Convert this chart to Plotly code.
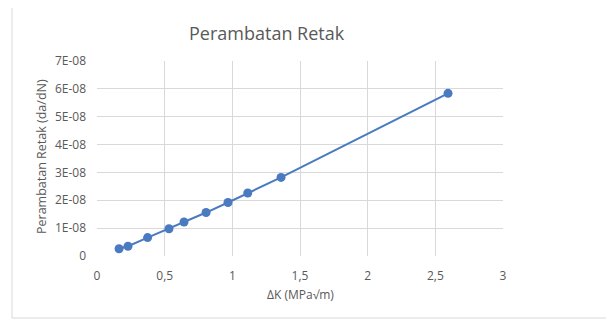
import plotly.graph_objects as go

delta_k = [0.163, 0.229, 0.374, 0.532, 0.643, 0.806, 0.968, 1.114, 1.36, 2.594]
dadn = [2.6e-09, 3.5e-09, 6.6e-09, 9.8e-09, 1.22e-08, 1.56e-08, 1.92e-08, 2.26e-08, 2.82e-08, 5.84e-08]

x_tickvals = [0, 0.5, 1, 1.5, 2, 2.5, 3]
x_ticktext = ["0", "0,5", "1", "1,5", "2", "2,5", "3"]
y_tickvals = [0, 1e-08, 2e-08, 3e-08, 4e-08, 5e-08, 6e-08, 7e-08]
y_ticktext = ["0", "1E-08", "2E-08", "3E-08", "4E-08", "5E-08", "6E-08", "7E-08"]

FONT = "Open Sans"
GRAY = "#595959"

# page body has an 8px margin, so the figure is offset by 8px
OFF = 8
PL, PR, PT, PB = 97, 503, 61, 256  # plot area in page pixels
PW, PH = PR - PL, PB - PT

def px(x):
    return (x - PL) / PW

def py(y):
    return (PB - y) / PH

fig = go.Figure()
fig.add_trace(go.Scatter(
    x=delta_k, y=dadn, mode="lines+markers",
    line=dict(color="#4a7ac0", width=2),
    marker=dict(color="#4a7ac0", size=9),
    showlegend=False, hoverinfo="skip",
))

W, H = 606, 312
fig.update_layout(
    width=W, height=H,
    margin=dict(l=PL - OFF, r=W - (PR - OFF), t=PT - OFF, b=H - (PB - OFF)),
    paper_bgcolor="white", plot_bgcolor="white",
    font=dict(family=FONT, color=GRAY, size=12),
    xaxis=dict(range=[0, 3], tickvals=x_tickvals, ticktext=x_ticktext,
               showgrid=True, gridcolor="#d9d9d9", gridwidth=1,
               zeroline=False, showline=False, ticks="",
               ticklabelstandoff=11,
               tickfont=dict(size=12, color=GRAY, family=FONT)),
    yaxis=dict(range=[0, 7e-08], tickvals=y_tickvals, ticktext=y_ticktext,
               showgrid=True, gridcolor="#d9d9d9", gridwidth=1,
               zeroline=False, showline=False, ticks="",
               ticklabelstandoff=10,
               tickfont=dict(size=12, color=GRAY, family=FONT)),
    annotations=[
        dict(text="Perambatan Retak", xref="paper", yref="paper",
             x=px(267), y=py(33), xanchor="center", yanchor="middle",
             showarrow=False, font=dict(size=18, color=GRAY, family=FONT)),
        dict(text="ΔK (MPa√m)", xref="paper", yref="paper",
             x=px(300), y=py(294), xanchor="center", yanchor="middle",
             showarrow=False, font=dict(size=12, color=GRAY, family=FONT)),
        dict(text="Perambatan Retak (da/dN)", xref="paper", yref="paper",
             x=px(41), y=py(157), xanchor="center", yanchor="middle",
             textangle=-90, showarrow=False, font=dict(size=12.5, color=GRAY, family=FONT)),
    ],
    shapes=[
        dict(type="rect", xref="paper", yref="paper",
             x0=px(12), x1=px(611), y0=py(318), y1=py(7),
             line=dict(color="#d9d9d9", width=1), fillcolor="rgba(0,0,0,0)", layer="below"),
    ],
)

fig.write_html("out.html")
